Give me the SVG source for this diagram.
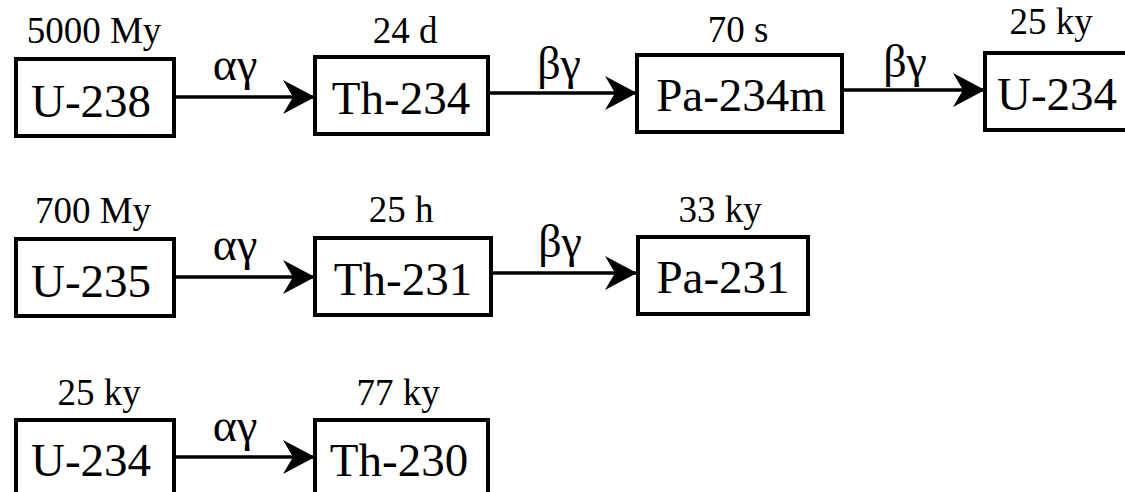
<svg xmlns="http://www.w3.org/2000/svg" width="1125" height="492" viewBox="0 0 1125 492">
<style>
.box{fill:#fff;stroke:#000;stroke-width:4}
.t{font-family:"Liberation Serif","Times New Roman",serif;fill:#000;text-anchor:middle}
.n{font-size:47px}
.h{font-size:37px}
.g{font-size:46px}
.c{stroke:#000;stroke-width:3.5;fill:none;marker-end:url(#ah)}
</style>
<defs>
<marker id="ah" markerUnits="userSpaceOnUse" viewBox="0 0 32 34" refX="32" refY="17" markerWidth="32" markerHeight="34" orient="auto">
<path d="M0,0 L32,17 L0,34 L10,17 Z" fill="#000"/>
</marker>
</defs>
<rect width="1125" height="492" fill="#fff"/>
<g id="connectors">
<line class="c" x1="174" y1="97" x2="315" y2="97"/>
<text class="t g" x="235" y="80">αγ</text>
<line class="c" x1="488" y1="93" x2="637" y2="93"/>
<text class="t g" x="559" y="79">βγ</text>
<line class="c" x1="842" y1="90" x2="985" y2="90"/>
<text class="t g" x="905" y="77">βγ</text>
<line class="c" x1="174" y1="277" x2="315" y2="277"/>
<text class="t g" x="235" y="260">αγ</text>
<line class="c" x1="491" y1="273" x2="637" y2="273"/>
<text class="t g" x="560" y="257">βγ</text>
<line class="c" x1="174" y1="457" x2="315" y2="457"/>
<text class="t g" x="235" y="441">αγ</text>
</g>
<g id="U-238">
<text class="t h" x="94" y="43">5000 My</text>
<rect class="box" x="16" y="59" width="158" height="77"/>
<text class="t n" x="91" y="117">U-238</text>
</g>
<g id="Th-234">
<text class="t h" x="405" y="43">24 d</text>
<rect class="box" x="315" y="57" width="173" height="77"/>
<text class="t n" x="401" y="114">Th-234</text>
</g>
<g id="Pa-234m">
<text class="t h" x="738" y="42">70 s</text>
<rect class="box" x="637" y="55" width="205" height="77"/>
<text class="t n" x="741" y="111">Pa-234m</text>
</g>
<g id="U-234a">
<text class="t h" x="1051" y="34">25 ky</text>
<rect class="box" x="985" y="53" width="160" height="77"/>
<text class="t n" x="1057" y="110">U-234</text>
</g>
<g id="U-235">
<text class="t h" x="93" y="223">700 My</text>
<rect class="box" x="16" y="239" width="158" height="77"/>
<text class="t n" x="91" y="297">U-235</text>
</g>
<g id="Th-231">
<text class="t h" x="401" y="222">25 h</text>
<rect class="box" x="315" y="238" width="176" height="77"/>
<text class="t n" x="403" y="295">Th-231</text>
</g>
<g id="Pa-231">
<text class="t h" x="720" y="222">33 ky</text>
<rect class="box" x="638" y="237" width="170" height="77"/>
<text class="t n" x="723" y="293">Pa-231</text>
</g>
<g id="U-234b">
<text class="t h" x="99" y="405">25 ky</text>
<rect class="box" x="16" y="420" width="158" height="77"/>
<text class="t n" x="91" y="476">U-234</text>
</g>
<g id="Th-230">
<text class="t h" x="398" y="405">77 ky</text>
<rect class="box" x="315" y="420" width="173" height="77"/>
<text class="t n" x="399" y="476">Th-230</text>
</g>
</svg>
